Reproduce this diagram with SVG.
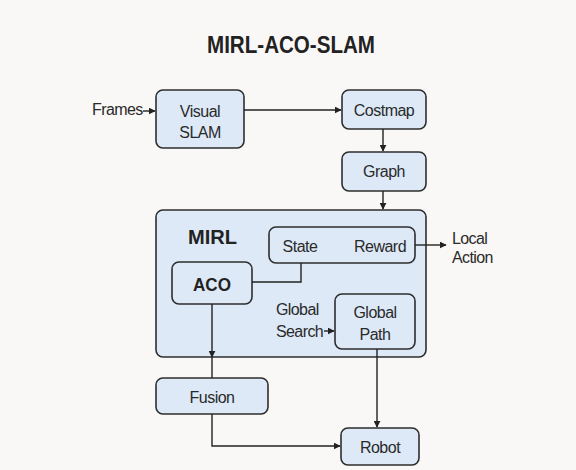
<svg xmlns="http://www.w3.org/2000/svg" width="576" height="470" viewBox="0 0 576 470">
  <defs>
    <marker id="arrow" viewBox="0 0 10 10" refX="9" refY="5" markerWidth="7" markerHeight="7" markerUnits="userSpaceOnUse" orient="auto">
      <path d="M0,0 L10,5 L0,10 z" fill="#222"/>
    </marker>
    <style>
      .box { fill: #dde9f7; stroke: #2e2e2e; stroke-width: 1.6; }
      .lbl { font-family: "Liberation Sans", Arial, sans-serif; font-size: 16px; letter-spacing: -0.5px; fill: #2a2a2a; text-anchor: middle; }
      .side { font-family: "Liberation Sans", Arial, sans-serif; font-size: 16px; letter-spacing: -0.6px; fill: #2a2a2a; }
      .bold { font-family: "Liberation Sans", Arial, sans-serif; font-weight: bold; fill: #222; }
      .wire { fill: none; stroke: #222; stroke-width: 1.4; }
    </style>
  </defs>

  <rect x="0" y="0" width="576" height="470" fill="#f9f8f6"/>

  <text class="bold" x="291" y="53" font-size="24" text-anchor="middle" textLength="168" lengthAdjust="spacingAndGlyphs">MIRL-ACO-SLAM</text>

  <!-- container -->
  <g id="mirl">
    <rect class="box" x="156" y="210" width="270" height="147" rx="7"/>
    <text class="bold" x="188" y="244" font-size="21" textLength="49" lengthAdjust="spacingAndGlyphs">MIRL</text>
  </g>

  <g id="visual-slam">
    <rect class="box" x="156" y="90" width="88" height="58" rx="7"/>
    <text class="lbl" x="200" y="117">Visual</text>
    <text class="lbl" x="200" y="138">SLAM</text>
  </g>

  <g id="costmap">
    <rect class="box" x="342" y="90" width="84" height="39" rx="7"/>
    <text class="lbl" x="384" y="116">Costmap</text>
  </g>

  <g id="graph">
    <rect class="box" x="342" y="152" width="84" height="39" rx="7"/>
    <text class="lbl" x="384" y="177">Graph</text>
  </g>

  <g id="state-reward">
    <rect class="box" x="269" y="227" width="146" height="36" rx="7"/>
    <text class="lbl" x="300" y="252">State</text>
    <text class="lbl" x="380" y="252">Reward</text>
  </g>

  <g id="aco">
    <rect class="box" x="172" y="262" width="80" height="42" rx="7"/>
    <text class="bold" x="212" y="291" font-size="19" text-anchor="middle" textLength="38" lengthAdjust="spacingAndGlyphs">ACO</text>
  </g>

  <g id="global-path">
    <rect class="box" x="335" y="294" width="80" height="55" rx="7"/>
    <text class="lbl" x="375" y="318">Global</text>
    <text class="lbl" x="375" y="340">Path</text>
  </g>

  <g id="fusion">
    <rect class="box" x="156" y="378" width="112" height="36" rx="7"/>
    <text class="lbl" x="212" y="403">Fusion</text>
  </g>

  <g id="robot">
    <rect class="box" x="341" y="428" width="78" height="37" rx="7"/>
    <text class="lbl" x="380" y="453">Robot</text>
  </g>

  <!-- free labels -->
  <text class="side" x="92" y="115">Frames</text>
  <text class="side" x="452" y="244">Local</text>
  <text class="side" x="452" y="263">Action</text>
  <text class="side" x="276" y="315">Global</text>
  <text class="side" x="276" y="337">Search</text>

  <g id="connectors">
    <line class="wire" x1="143" y1="111" x2="155" y2="111" marker-end="url(#arrow)"/>
    <line class="wire" x1="244" y1="110" x2="341" y2="110" marker-end="url(#arrow)"/>
    <line class="wire" x1="383" y1="129" x2="383" y2="151" marker-end="url(#arrow)"/>
    <line class="wire" x1="383" y1="191" x2="383" y2="209" marker-end="url(#arrow)"/>
    <line class="wire" x1="415" y1="245" x2="446" y2="245" marker-end="url(#arrow)"/>
    <polyline class="wire" points="301,263 301,282 252,282"/>
    <line class="wire" x1="324" y1="331" x2="334" y2="331" marker-end="url(#arrow)"/>
    <line class="wire" x1="212" y1="304" x2="212" y2="357" marker-end="url(#arrow)"/>
    <line class="wire" x1="212" y1="357" x2="212" y2="378"/>
    <line class="wire" x1="377" y1="349" x2="377" y2="427" marker-end="url(#arrow)"/>
    <polyline class="wire" points="212,414 212,446 340,446" marker-end="url(#arrow)"/>
  </g>
</svg>
